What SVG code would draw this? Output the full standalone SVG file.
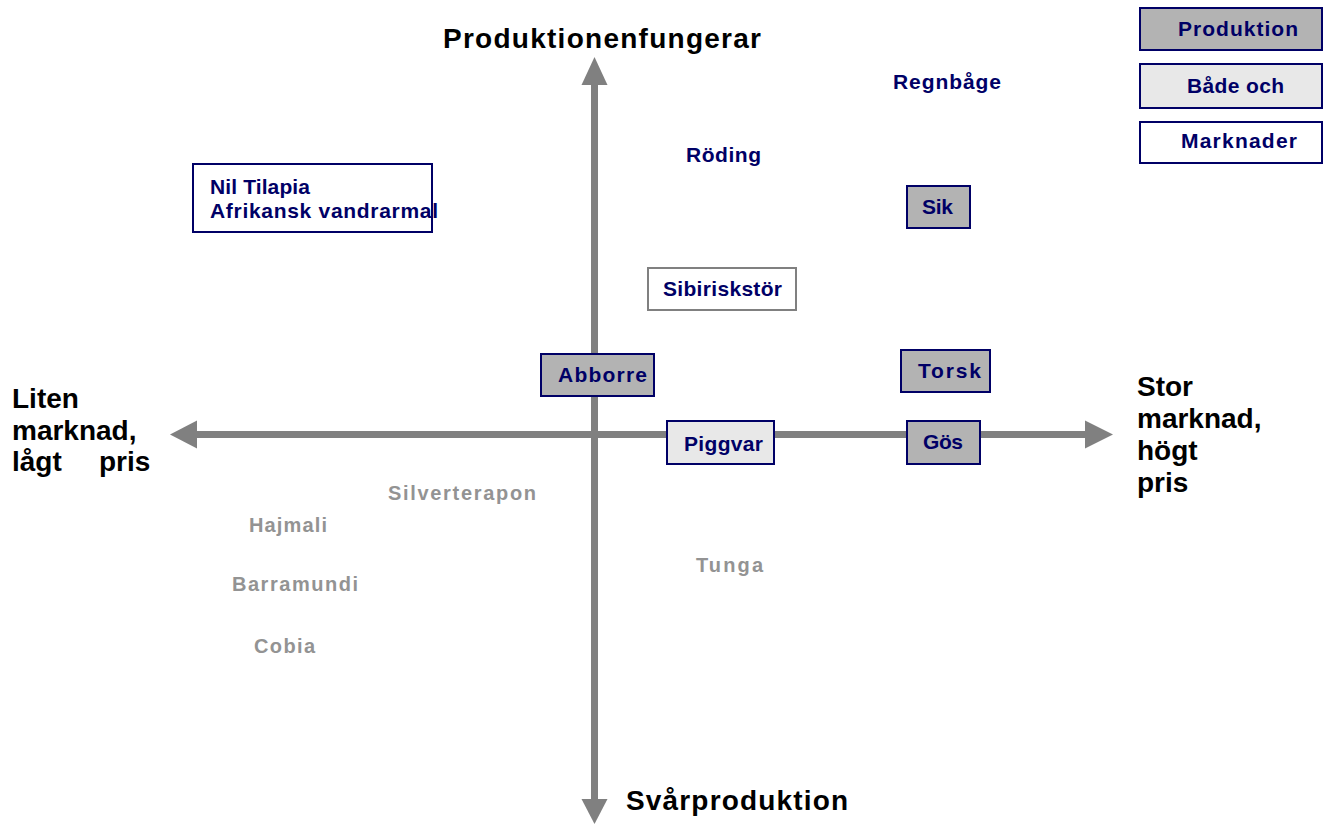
<svg xmlns="http://www.w3.org/2000/svg" width="1333" height="824" viewBox="0 0 1333 824">
<style>
.lbl{font-family:"Liberation Sans",Arial,sans-serif;font-weight:bold;font-size:21px;fill:#000066}
.gry{font-family:"Liberation Sans",Arial,sans-serif;font-weight:bold;font-size:20px;fill:#939393}
.ax{font-family:"Liberation Sans",Arial,sans-serif;font-weight:bold;font-size:28px;fill:#000}
.prod{fill:#b3b3b3;stroke:#000066;stroke-width:2}
.both{fill:#e8e8e8;stroke:#000066;stroke-width:2}
.mark{fill:#fff;stroke:#000066;stroke-width:2}
.axis{fill:#808080}
</style>
<rect width="1333" height="824" fill="#fff"/>
<g id="connectors">
<rect class="axis" x="591" y="84" width="7" height="716"/>
<polygon class="axis" points="594.5,57 581.5,85 607.5,85"/>
<polygon class="axis" points="594.5,824 581.5,799 607.5,799"/>
<rect class="axis" x="196" y="431" width="890" height="7"/>
<polygon class="axis" points="170,434.5 197,420.5 197,448.5"/>
<polygon class="axis" points="1113,434.5 1085,420.5 1085,448.5"/>
</g>
<g id="axis-labels">
<text class="ax" x="443" y="48" textLength="318" lengthAdjust="spacing">Produktionenfungerar</text>
<text class="ax" x="626" y="810" textLength="222" lengthAdjust="spacing">Svårproduktion</text>
<g id="left-label">
<text class="ax" x="12" y="408">Liten</text>
<text class="ax" x="12" y="440">marknad,</text>
<text class="ax" x="12" y="471">lågt</text>
<text class="ax" x="99" y="471">pris</text>
</g>
<g id="right-label">
<text class="ax" x="1137" y="396">Stor</text>
<text class="ax" x="1137" y="428">marknad,</text>
<text class="ax" x="1137" y="460">högt</text>
<text class="ax" x="1137" y="492">pris</text>
</g>
</g>
<g id="legend-produktion"><rect class="prod" x="1140" y="8" width="182" height="42"/><text class="lbl" x="1178" y="36" textLength="120" lengthAdjust="spacing">Produktion</text></g>
<g id="legend-bade"><rect class="both" x="1140" y="64" width="182" height="44"/><text class="lbl" x="1187" y="93" textLength="97" lengthAdjust="spacing">Både och</text></g>
<g id="legend-marknader"><rect class="mark" x="1140" y="122" width="182" height="41"/><text class="lbl" x="1181" y="148" textLength="116" lengthAdjust="spacing">Marknader</text></g>
<g id="node-regnbage"><text class="lbl" x="893" y="89" textLength="108" lengthAdjust="spacing">Regnbåge</text></g>
<g id="node-roding"><text class="lbl" x="686" y="162" textLength="75" lengthAdjust="spacing">Röding</text></g>
<g id="node-nil"><rect class="mark" x="193" y="164" width="239" height="68"/><text class="lbl" x="210" y="194" textLength="100" lengthAdjust="spacing">Nil Tilapia</text><text class="lbl" x="210" y="218" textLength="228" lengthAdjust="spacing">Afrikansk vandrarmal</text></g>
<g id="node-sik"><rect class="prod" x="907" y="186" width="63" height="42"/><text class="lbl" x="922" y="214" textLength="31" lengthAdjust="spacing">Sik</text></g>
<g id="node-sibirisk"><rect x="648" y="268" width="148" height="42" fill="#fff" stroke="#808080" stroke-width="2"/><text class="lbl" x="663" y="296" textLength="119" lengthAdjust="spacing">Sibiriskstör</text></g>
<g id="node-abborre"><rect class="prod" x="541" y="354" width="113" height="42"/><text class="lbl" x="558" y="382" textLength="89" lengthAdjust="spacing">Abborre</text></g>
<g id="node-torsk"><rect class="prod" x="901" y="350" width="89" height="42"/><text class="lbl" x="918" y="378" textLength="63" lengthAdjust="spacing">Torsk</text></g>
<g id="node-piggvar"><rect class="both" x="667" y="421" width="107" height="43"/><text class="lbl" x="684" y="451" textLength="79" lengthAdjust="spacing">Piggvar</text></g>
<g id="node-gos"><rect class="prod" x="907" y="421" width="73" height="43"/><text class="lbl" x="923" y="449" textLength="40" lengthAdjust="spacing">Gös</text></g>
<g id="node-silverterapon"><text class="gry" x="388" y="500" textLength="148" lengthAdjust="spacing">Silverterapon</text></g>
<g id="node-hajmali"><text class="gry" x="249" y="532" textLength="78" lengthAdjust="spacing">Hajmali</text></g>
<g id="node-tunga"><text class="gry" x="696" y="572" textLength="67" lengthAdjust="spacing">Tunga</text></g>
<g id="node-barramundi"><text class="gry" x="232" y="591" textLength="126" lengthAdjust="spacing">Barramundi</text></g>
<g id="node-cobia"><text class="gry" x="254" y="653" textLength="61" lengthAdjust="spacing">Cobia</text></g>
</svg>
